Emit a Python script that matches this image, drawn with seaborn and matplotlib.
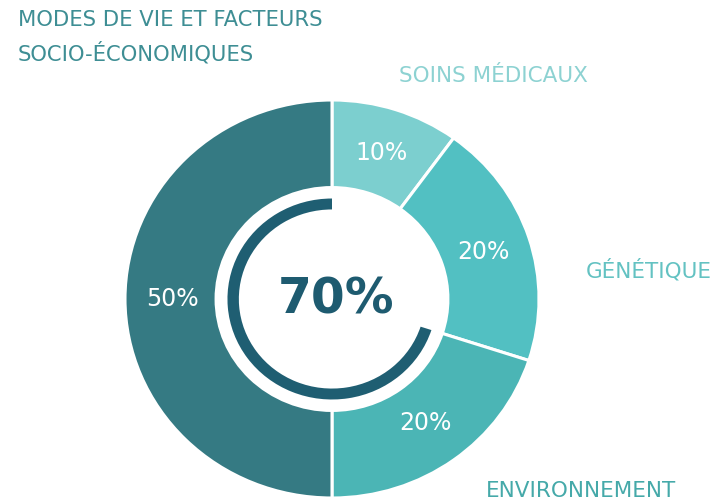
import matplotlib
matplotlib.use('Agg')
import matplotlib.pyplot as plt
import seaborn as sns

# données du graphique
categories = ['SOINS MÉDICAUX', 'GÉNÉTIQUE', 'ENVIRONNEMENT',
              'MODES DE VIE ET FACTEURS\nSOCIO-ÉCONOMIQUES']
parts = [10, 20, 20, 50]
ring_value = [70, 30]
center_label = '70%'

sns.set_theme(style='white')
plt.rcParams['font.family'] = ['DejaVu Sans']

seg_colors = sns.color_palette(['#7ccfcf', '#52c0c2', '#4bb5b5', '#357a83'])
arc_color = '#1f5e72'

W, H = 715, 503
fig = plt.figure(figsize=(W / 100, H / 100), dpi=100)
ax = fig.add_axes([0, 0, 1, 1])

# donut principal (sens horaire depuis midi)
wedges, _, pct = ax.pie(parts, colors=seg_colors, startangle=90, counterclock=False,
                        radius=1.0, autopct='%d%%', pctdistance=0.77,
                        wedgeprops=dict(width=0.44, edgecolor='white', linewidth=2.2),
                        textprops=dict(color='white', fontsize=17))

# anneau intérieur : 70 %
ax.pie(ring_value, colors=[arc_color, 'none'], startangle=90, counterclock=True,
       radius=0.505, wedgeprops=dict(width=0.055, linewidth=0))

# proportions légèrement étirées comme dans l'image
cx, cy, rx, ry = 332, 299, 207, 199
ax.set_aspect('auto')
ax.set_xlim(-cx / rx, (W - cx) / rx)
ax.set_ylim(-(H - cy) / ry, cy / ry)
ax.axis('off')

ax.text(0.02, 0.0, center_label, ha='center', va='center',
        fontsize=35, fontweight='bold', color='#1e5b70')


def ftext(x, y, s, **kw):
    fig.text(x / W, 1 - y / H, s, **kw)


ftext(18, 20, 'MODES DE VIE ET FACTEURS', ha='left', va='center',
      fontsize=15.2, color='#3e8e94')
ftext(18, 53, 'SOCIO-ÉCONOMIQUES', ha='left', va='center',
      fontsize=15.2, color='#3e8e94')
ftext(493, 76, categories[0], ha='center', va='center', fontsize=15.5, color='#8dd2d2')
ftext(712, 270, categories[1], ha='right', va='center', fontsize=15.5, color='#63c2c2')
ftext(581, 491, categories[2], ha='center', va='center', fontsize=15.5, color='#45a9a9')

fig.savefig('out.png', dpi=100, facecolor='white')
